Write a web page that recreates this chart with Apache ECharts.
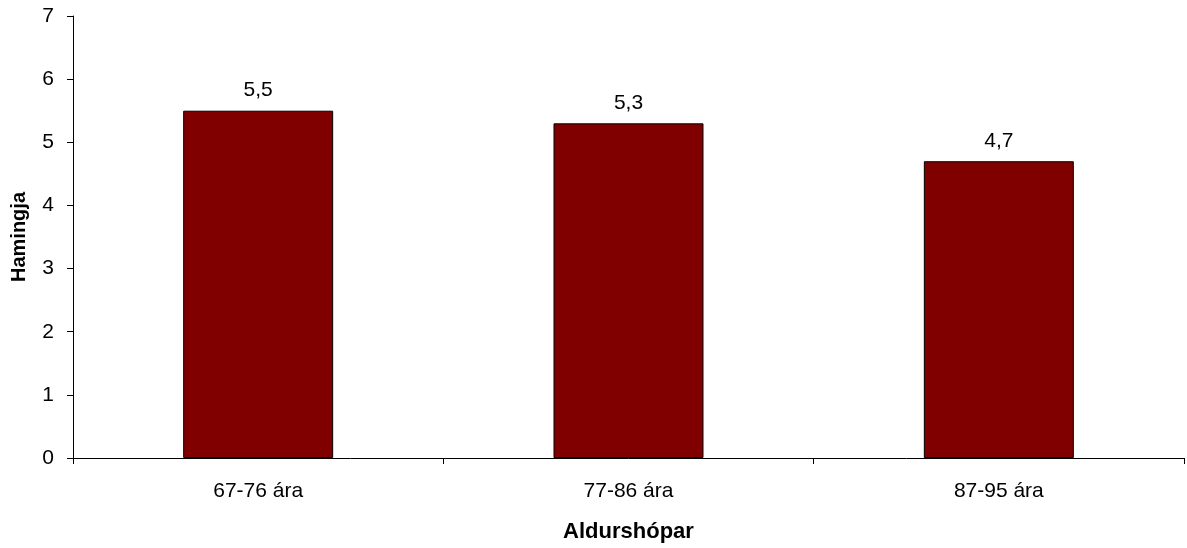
<!DOCTYPE html>
<html><head><meta charset="utf-8">
<script src="https://cdn.jsdelivr.net/npm/echarts@6/dist/echarts.min.js"></script>
<style>html,body{margin:0;padding:0;background:#fff}#c{width:1187px;height:548px}</style>
</head><body><div id="c"></div>
<script>
const categories = ['67-76 ára', '77-86 ára', '87-95 ára'];
const values = [5.5, 5.3, 4.7];
const yTicks = [0, 1, 2, 3, 4, 5, 6, 7];
const xName = 'Aldurshópar';
const yName = 'Hamingja';

const font = '"Liberation Sans", Arial, sans-serif';
const chart = echarts.init(document.getElementById('c'), null, {renderer: 'canvas'});
chart.setOption({
  animation: false,
  backgroundColor: '#fff',
  grid: {left: 73, right: 3, top: 16, bottom: 90, containLabel: false, outerBoundsMode: 'none'},
  xAxis: {
    type: 'category', data: categories,
    name: xName, nameLocation: 'middle', nameGap: 63,
    nameTextStyle: {fontFamily: font, fontSize: 22, fontWeight: 'bold', color: '#000'},
    axisLine: {lineStyle: {color: '#000', width: 1}},
    axisTick: {show: true, alignWithLabel: false, length: 6, inside: false, lineStyle: {color: '#000'}},
    axisLabel: {fontFamily: font, fontSize: 21, color: '#000', margin: 23},
    splitLine: {show: false}
  },
  yAxis: {
    type: 'value', min: yTicks[0], max: yTicks[yTicks.length - 1], interval: 1,
    name: yName, nameLocation: 'middle', nameGap: 44, nameRotate: 90,
    nameTextStyle: {fontFamily: font, fontSize: 20, fontWeight: 'bold', color: '#000'},
    axisLine: {show: true, lineStyle: {color: '#000', width: 1}},
    axisTick: {show: true, length: 6, lineStyle: {color: '#000'}},
    axisLabel: {fontFamily: font, fontSize: 21, color: '#000', margin: 19},
    splitLine: {show: false}
  },
  series: [{
    type: 'bar', data: values, barWidth: '40.5%',
    itemStyle: {color: '#800000', borderColor: '#000', borderWidth: 1},
    label: {show: true, position: 'top', distance: 10, fontFamily: font, fontSize: 21, color: '#000',
      formatter: p => String(p.value).replace('.', ',')}
  }]
});
</script></body></html>
